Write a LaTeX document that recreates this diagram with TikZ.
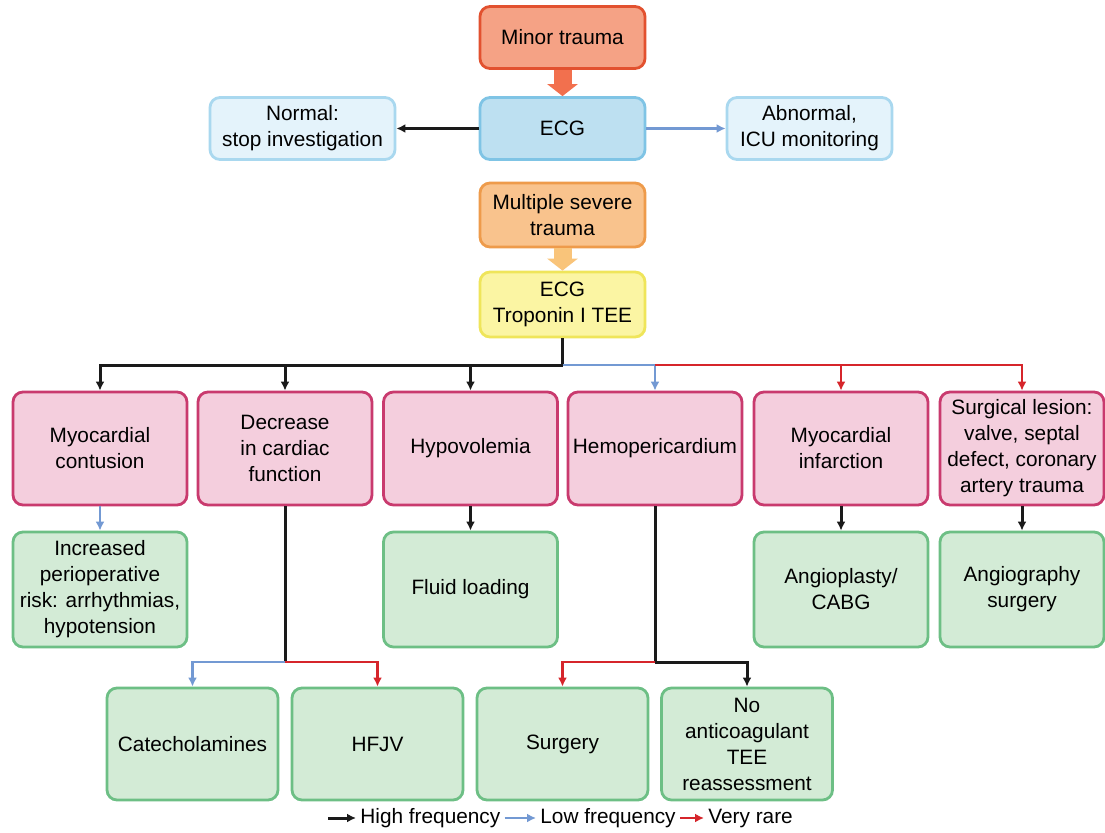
\documentclass[tikz,border=0pt]{standalone}
\usepackage{fontspec}
\setmainfont{Liberation Sans}
\usetikzlibrary{positioning,arrows.meta}

\begin{document}
\begin{tikzpicture}[x=0.5pt,y=-0.5pt,font=\fontsize{10.4}{13}\selectfont,
  >={Latex[length=4.5pt,width=4.5pt]},
  box/.style={draw,rounded corners=5pt,line width=1.4pt,align=center,inner sep=1pt},
  topbox/.style={box,minimum width=82.5pt,minimum height=31pt},
  cause/.style={box,draw=cpinkd,fill=cpink,minimum width=87pt,minimum height=56.5pt},
  treat/.style={box,draw=cgreend,fill=cgreen,minimum width=87pt,minimum height=57.5pt},
  treatlow/.style={treat,minimum width=85.5pt,minimum height=56pt},
  hi/.style={line width=1.5pt,chi},lo/.style={line width=1.3pt,clo},
  rare/.style={line width=1.4pt,crare},
  big/.style={line width=9pt,-{Triangle[length=6pt,width=15pt]}},
  legend/.style={anchor=west,inner sep=2pt}]
\definecolor{chi}{HTML}{1A1A1A}\definecolor{clo}{HTML}{7399D3}
\definecolor{crare}{HTML}{D6252B}
\definecolor{cminor}{HTML}{F5A285}\definecolor{cminord}{HTML}{E2512F}
\definecolor{cecg}{HTML}{BDE0F1}\definecolor{cecgd}{HTML}{7FC4E5}
\definecolor{cout}{HTML}{E4F3FB}\definecolor{coutd}{HTML}{A9D8EF}
\definecolor{cmulti}{HTML}{F9C38D}\definecolor{cmultid}{HTML}{EE9B4B}
\definecolor{ctri}{HTML}{FBF5A3}\definecolor{ctrid}{HTML}{EFE55A}
\definecolor{carrA}{HTML}{F2704E}\definecolor{carrB}{HTML}{F9C47A}
\definecolor{cpink}{HTML}{F4CEDD}\definecolor{cpinkd}{HTML}{C93A6E}
\definecolor{cgreen}{HTML}{D3EBD6}\definecolor{cgreend}{HTML}{6DBF85}
\useasboundingbox[fill=white] (0,0) rectangle (1105,832);
% entry boxes
\node[topbox,fill=cminor,draw=cminord] (minor) at (562.5,37.5) {Minor trauma};
\node[topbox,fill=cecg,draw=cecgd] (ecg) at (562.5,128.5) {ECG};
\node[topbox,minimum width=92.5pt,fill=cout,draw=coutd]
  (normal) at (302.5,128.5) {Normal:\\stop investigation};
\node[topbox,fill=cout,draw=coutd] (abnormal) at (809.5,128.5) {Abnormal,\\ICU monitoring};
\node[topbox,minimum height=32pt,fill=cmulti,draw=cmultid]
  (multi) at (562.5,215) {Multiple severe\\trauma};
\node[topbox,minimum height=32.5pt,fill=ctri,draw=ctrid]
  (tri) at (562.5,304.5) {ECG\\Troponin I TEE};
\draw[big,carrA] (minor.south) -- (ecg.north);
\draw[big,carrB] (multi.south) -- (tri.north);
\draw[hi,->] (ecg.west) -- (normal.east);
\draw[lo,->] (ecg.east) -- (abnormal.west);
% lesions
\node[cause] (contu) at (100,448.5) {Myocardial\\contusion};
\node[cause] (decr) at (285,448.5) {Decrease\\in cardiac\\function};
\node[cause] (hypo) at (470.5,448.5) {Hypovolemia};
\node[cause] (hemo) at (655,448.5) {Hemopericardium};
\node[cause] (infarc) at (841,448.5) {Myocardial\\infarction};
\node[cause,minimum width=82pt] (lesion) at (1022,448.5) {Surgical lesion:\\valve, septal\\defect, coronary\\artery trauma};
\coordinate (bus) at (562.5,365);
\draw[hi] (tri.south) -- (bus);
\draw[hi,->] (bus) -| (contu.north);
\draw[hi,->] (bus) -| (decr.north);
\draw[hi,->] (bus) -| (hypo.north);
\draw[lo,->] (bus) -| (hemo.north);
\draw[rare,->] (hemo.north |- bus) -| (infarc.north);
\draw[rare,->] (hemo.north |- bus) -| (lesion.north);
% treatments
\node[treat] (risk) at (100,589.5) {Increased\\perioperative\\risk: arrhythmias,\\hypotension};
\node[treat] (fluid) at (470.5,589.5) {Fluid loading};
\node[treat] (angio) at (841,589.5) {Angioplasty/\\CABG};
\node[treat,minimum width=82pt] (angiog) at (1022,589.5) {Angiography\\surgery};
\draw[lo,->] (contu) -- (risk);
\draw[hi,->] (hypo) -- (fluid);
\draw[hi,->] (infarc) -- (angio);
\draw[hi,->] (lesion) -- (angiog);
\node[treatlow] (catec) at (192.5,744) {Catecholamines};
\node[treatlow] (hfjv) at (377.5,744) {HFJV};
\node[treatlow] (surg) at (562.5,744) {Surgery};
\node[treatlow] (noanti) at (747,744) {No\\anticoagulant\\TEE\\reassessment};
\coordinate (dsplit) at (285,662);
\coordinate (hsplit) at (655,662);
\draw[hi] (decr.south) -- (dsplit);
\draw[lo,->] (dsplit) -| (catec.north);
\draw[rare,->] (dsplit) -| (hfjv.north);
\draw[hi] (hemo.south) -- (hsplit);
\draw[rare,->] (hsplit) -| (surg.north);
\draw[hi,->] (hsplit) -| (noanti.north);
% legend
\coordinate (lstart) at (328,818);
\node[legend] (lhigh) at (356,818) {High frequency};
\node[legend] (llow) at (536,818) {Low frequency};
\node[legend] (lrare) at (704,818) {Very rare};
\draw[hi,->] (lstart) -- (lhigh.west);
\draw[lo,->] (lhigh.east) -- (llow.west);
\draw[rare,->] (llow.east) -- (lrare.west);
\end{tikzpicture}
\end{document}
